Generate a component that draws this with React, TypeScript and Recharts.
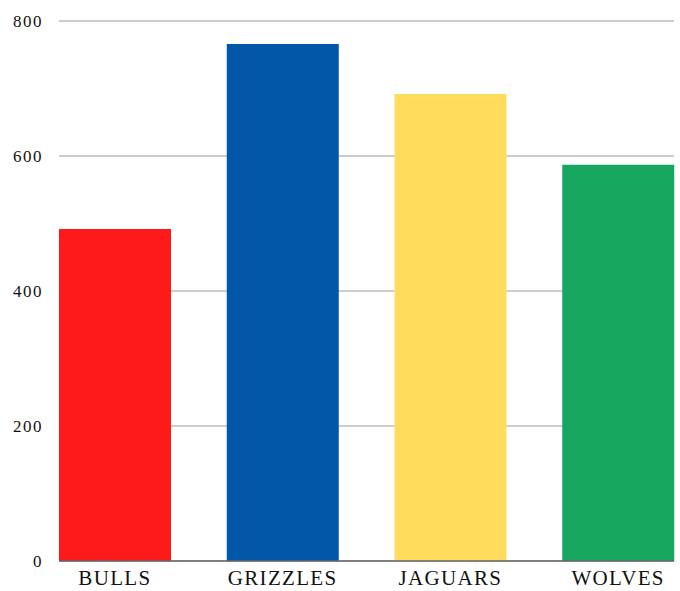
import { BarChart, Bar, XAxis, YAxis, CartesianGrid, Cell } from "recharts";

const teams = ["BULLS", "GRIZZLES", "JAGUARS", "WOLVES"];
const scores = [492, 766, 692, 587];
const barColors = ["#FF1A1A", "#0057A8", "#FDDC5C", "#16A65D"];
const yTicks = [0, 200, 400, 600, 800];

const data = teams.map((team, i) => ({ team, score: scores[i] }));

export default function App() {
  return (
    <div style={{ position: "fixed", left: 0, top: 0, width: 680, height: 591, background: "#fff" }}>
      <BarChart
        width={680}
        height={591}
        data={data}
        margin={{ top: 21, right: 6, bottom: 0, left: 0 }}
        barCategoryGap="16.7%"
      >
        <CartesianGrid vertical={false} stroke="#bbbbbb" strokeWidth={1.5} />
        <XAxis
          dataKey="team"
          height={30}
          padding={{ left: -28, right: -28 }}
          axisLine={{ stroke: "#666666", strokeWidth: 1.5 }}
          tickLine={false}
          tickSize={0}
          tickMargin={9}
          tick={{ fill: "#111", fontSize: 21, letterSpacing: 1.3, fontFamily: "Liberation Serif, serif" }}
          interval={0}
        />
        <YAxis
          width={59}
          domain={[0, 800]}
          ticks={yTicks}
          axisLine={false}
          tickLine={false}
          tickSize={0}
          tickMargin={16}
          tick={{ fill: "#111", fontSize: 17, letterSpacing: 1.5, fontFamily: "Liberation Serif, serif" }}
        />
        <Bar dataKey="score" isAnimationActive={false}>
          {data.map((d, i) => (
            <Cell key={d.team} fill={barColors[i]} />
          ))}
        </Bar>
      </BarChart>
    </div>
  );
}
